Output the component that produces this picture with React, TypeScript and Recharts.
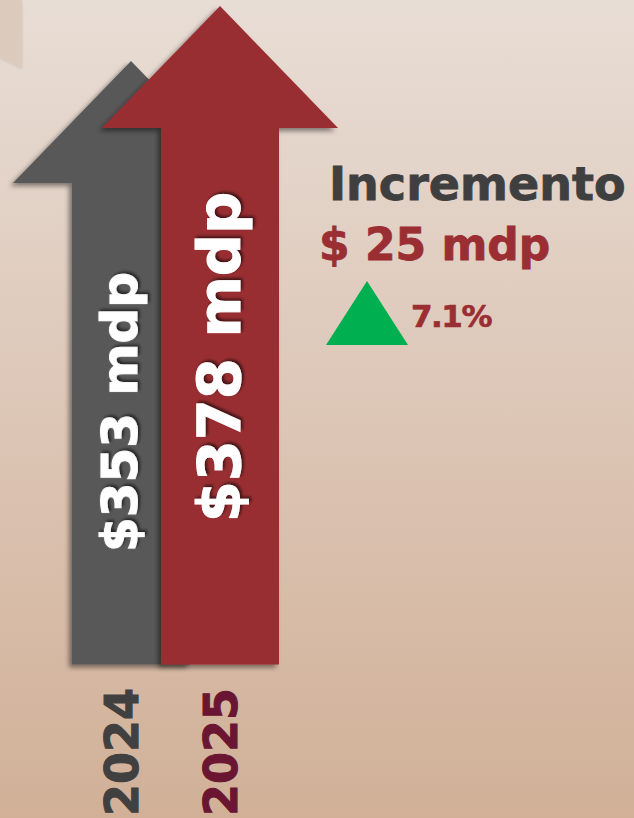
import React from 'react';
import { BarChart, Bar, XAxis, YAxis, Cell, LabelList } from 'recharts';

const YEARS = ['2024', '2025'];
const VALUES = [353, 378];
const BAR_LABELS = ['$353 mdp', '$378 mdp'];
const BAR_COLORS = ['#595959', '#982f33'];
const YEAR_COLORS = ['#404040', '#6a1531'];
const TITLE = 'Incremento';
const INCREASE_LABEL = '$ 25 mdp';
const INCREASE_PCT = '7.1%';

const data = YEARS.map((year, i) => ({ year, value: VALUES[i], label: BAR_LABELS[i] }));

const FONT = '"DejaVu Sans", sans-serif';
const SHAFT_HALF = 59;
const HEAD_HALF = 118;
const HEAD_H = 122;
const LABEL_DX = [6, 20];
const LABEL_SIZE = [50, 59];
const YEAR_DX = [7, 17];

const ArrowShape = (props: any) => {
  const { x, y, width, height, fill } = props;
  const cx = x + width / 2;
  const b = y + height;
  const hb = y + HEAD_H;
  const pts = [
    [cx, y],
    [cx + HEAD_HALF, hb],
    [cx + SHAFT_HALF, hb],
    [cx + SHAFT_HALF, b],
    [cx - SHAFT_HALF, b],
    [cx - SHAFT_HALF, hb],
    [cx - HEAD_HALF, hb],
  ]
    .map((p) => p.join(','))
    .join(' ');
  return <polygon points={pts} fill={fill} filter="url(#arrowShadow)" />;
};

const BarLabel = (props: any) => {
  const { x, y, width, index, value } = props;
  const bx = x + width / 2 + LABEL_DX[index];
  const cy = y + 351;
  return (
    <text
      x={bx}
      y={cy}
      transform={`rotate(-90, ${bx}, ${cy})`}
      textAnchor="middle"
      fill="#ffffff"
      stroke="#ffffff"
      strokeWidth={1}
      fontFamily={FONT}
      fontWeight={700}
      fontSize={LABEL_SIZE[index]}
      filter="url(#textShadow)"
    >
      {value}
    </text>
  );
};

const YearTick = (props: any) => {
  const { x, index, payload } = props;
  const bx = x + YEAR_DX[index];
  const ty = 688;
  return (
    <text
      x={bx}
      y={ty}
      transform={`rotate(-90, ${bx}, ${ty})`}
      textAnchor="end"
      fill={YEAR_COLORS[index]}
      stroke={YEAR_COLORS[index]}
      strokeWidth={1}
      fontFamily={FONT}
      fontWeight={700}
      fontSize={46}
    >
      {payload.value}
    </text>
  );
};

export default function App() {
  return (
    <div
      style={{
        position: 'absolute',
        left: 0,
        top: 0,
        width: 634,
        height: 818,
        overflow: 'hidden',
        background: 'linear-gradient(180deg, #e8ddd5 0%, #dfcbbd 40%, #d1b097 100%)',
      }}
    >
      <svg width={0} height={0} style={{ position: 'absolute' }}>
        <defs>
          <filter id="arrowShadow" x="-20%" y="-10%" width="140%" height="120%">
            <feDropShadow dx={-3} dy={3} stdDeviation={2.5} floodColor="#000" floodOpacity={0.45} />
          </filter>
          <filter id="textShadow" x="-20%" y="-20%" width="140%" height="140%">
            <feDropShadow dx={2} dy={2} stdDeviation={1.5} floodColor="#000" floodOpacity={0.6} />
          </filter>
          <filter id="cornerShadow" x="-50%" y="-50%" width="200%" height="200%">
            <feDropShadow dx={0} dy={1} stdDeviation={1.5} floodColor="#000" floodOpacity={0.12} />
          </filter>
        </defs>
      </svg>
      <svg width={634} height={818} style={{ position: 'absolute', left: 0, top: 0 }}>
        <polygon points="0,0 22,0 22,68 0,57" fill="#dccabc" filter="url(#cornerShadow)" />
      </svg>
      <div style={{ position: 'absolute', left: 0, top: 0 }}>
        <BarChart
          width={634}
          height={818}
          data={data}
          margin={{ top: 6, left: 86.5, right: 369.5, bottom: 0 }}
          barCategoryGap={0}
        >
          <YAxis hide width={0} domain={[79, 378]} />
          <XAxis
            dataKey="year"
            axisLine={false}
            tickLine={false}
            height={153.5}
            interval={0}
            tick={<YearTick />}
          />
          <Bar dataKey="value" shape={<ArrowShape />} isAnimationActive={false}>
            {data.map((d, i) => (
              <Cell key={d.year} fill={BAR_COLORS[i]} />
            ))}
            <LabelList dataKey="label" content={<BarLabel />} />
          </Bar>
        </BarChart>
      </div>
      <svg width={634} height={818} style={{ position: 'absolute', left: 0, top: 0, pointerEvents: 'none' }}>
        <text x={329} y={200} fontFamily={FONT} fontWeight={700} fontSize={46} fill="#3f3f3f" stroke="#3f3f3f" strokeWidth={0.8}>
          {TITLE}
        </text>
        <text x={319} y={260} fontFamily={FONT} fontWeight={700} fontSize={44} fill="#9a2e33" stroke="#9a2e33" strokeWidth={0.8}>
          {INCREASE_LABEL}
        </text>
        <polygon points="326,345 367,281 408,345" fill="#00b050" />
        <text x={411} y={327} fontFamily={FONT} fontWeight={700} fontSize={31} letterSpacing={-1.5} fill="#9a2e33" stroke="#9a2e33" strokeWidth={0.6}>
          {INCREASE_PCT}
        </text>
      </svg>
    </div>
  );
}
